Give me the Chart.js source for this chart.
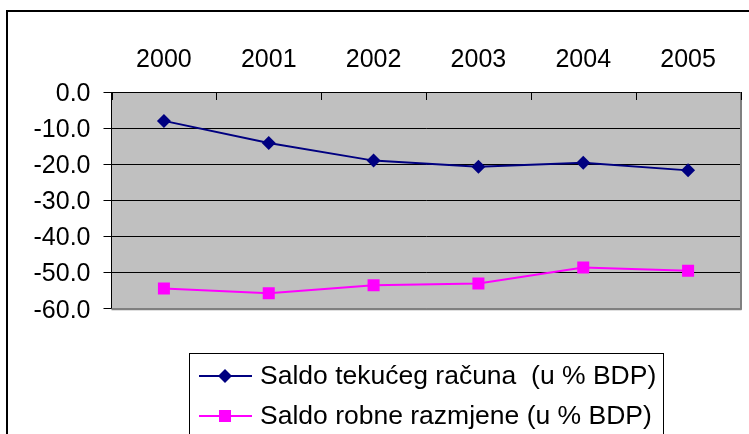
<!DOCTYPE html>
<html>
<head>
<meta charset="utf-8">
<script src="https://cdn.jsdelivr.net/npm/chart.js@4/dist/chart.umd.min.js"></script>
<style>
html,body{margin:0;padding:0;background:#fff;}
#wrap{width:749px;height:434px;position:relative;}
</style>
</head>
<body>
<div id="wrap"><canvas id="c" width="749" height="434"></canvas></div>
<script>
const categories = ['2000', '2001', '2002', '2003', '2004', '2005'];
const saldoTekucegRacuna = [-8.0, -14.1, -19.0, -20.7, -19.6, -21.7];
const saldoRobneRazmjene = [-54.4, -55.7, -53.5, -53.0, -48.6, -49.5];
const seriesLabels = ['Saldo tekućeg računa  (u % BDP)', 'Saldo robne razmjene (u % BDP)'];
const yTicks = { min: -60, max: 0, step: 10 };

const FONT = 'Liberation Sans, Arial, sans-serif';

const framePlugin = {
  id: 'frame',
  beforeDraw(chart) {
    const ctx = chart.ctx, a = chart.chartArea;
    ctx.save();
    ctx.fillStyle = '#fff';
    ctx.fillRect(0, 0, chart.width, chart.height);
    ctx.strokeStyle = '#000';
    ctx.lineWidth = 2;
    ctx.strokeRect(7, 11, 900, 600);
    ctx.fillStyle = '#C0C0C0';
    ctx.fillRect(a.left, a.top, a.right - a.left, a.bottom - a.top);
    ctx.restore();
  },
  afterDraw(chart) {
    const ctx = chart.ctx, a = chart.chartArea;
    const xs = chart.scales.x;
    ctx.save();
    ctx.strokeStyle = '#808080';
    ctx.lineWidth = 2;
    ctx.beginPath();
    ctx.moveTo(a.right + 0.5, a.top);
    ctx.lineTo(a.right + 0.5, a.bottom + 1);
    ctx.moveTo(a.left, a.bottom + 0.5);
    ctx.lineTo(a.right + 1, a.bottom + 0.5);
    ctx.stroke();
    ctx.strokeStyle = '#000';
    ctx.lineWidth = 1;
    ctx.beginPath();
    for (let i = 0; i <= categories.length; i++) {
      const x = Math.round(xs.getPixelForValue(i - 0.5)) + 0.5;
      ctx.moveTo(x, a.top);
      ctx.lineTo(x, a.top + 8);
    }
    ctx.stroke();
    ctx.beginPath();
    ctx.moveTo(a.left, a.top + 0.5);
    ctx.lineTo(a.right, a.top + 0.5);
    ctx.stroke();

    // legend
    const lx = 189.5, ly = 353.5;
    ctx.strokeStyle = '#000';
    ctx.lineWidth = 1;
    ctx.strokeRect(lx, ly, 474, 200);
    const rows = [376, 416];
    chart.data.datasets.forEach((ds, i) => {
      const y = rows[i];
      ctx.strokeStyle = ds.borderColor;
      ctx.lineWidth = 2;
      ctx.beginPath();
      ctx.moveTo(199, y);
      ctx.lineTo(252, y);
      ctx.stroke();
      ctx.fillStyle = ds.backgroundColor;
      ctx.beginPath();
      if (ds.pointStyle === 'rectRot') {
        const r = 7;
        ctx.moveTo(225, y - r); ctx.lineTo(225 + r, y); ctx.lineTo(225, y + r); ctx.lineTo(225 - r, y);
        ctx.closePath();
      } else {
        ctx.rect(219, y - 6, 12, 12);
      }
      ctx.fill();
      ctx.fillStyle = '#000';
      ctx.font = '26.5px ' + FONT;
      ctx.textBaseline = 'middle';
      ctx.textAlign = 'left';
      ctx.fillText(ds.label, 260, y + 1);
    });
    ctx.restore();
  }
};

new Chart(document.getElementById('c'), {
  type: 'line',
  data: {
    labels: categories,
    datasets: [
      {
        label: seriesLabels[0],
        data: saldoTekucegRacuna,
        borderColor: '#000080',
        backgroundColor: '#000080',
        borderWidth: 2,
        pointStyle: 'rectRot',
        pointRadius: 7,
        pointBorderWidth: 0,
        tension: 0
      },
      {
        label: seriesLabels[1],
        data: saldoRobneRazmjene,
        borderColor: '#FF00FF',
        backgroundColor: '#FF00FF',
        borderWidth: 2,
        pointStyle: 'rect',
        pointRadius: 8.5,
        pointBorderWidth: 0,
        tension: 0
      }
    ]
  },
  options: {
    responsive: false,
    animation: false,
    devicePixelRatio: 1,
    layout: { padding: { left: 0, right: 4.5, top: 0, bottom: 125.3 } },
    plugins: { legend: { display: false }, tooltip: { enabled: false } },
    scales: {
      x: {
        position: 'top',
        offset: true,
        grid: { display: false, drawTicks: false },
        border: { display: true, color: '#000', width: 1 },
        ticks: { color: '#000', font: { size: 25, family: FONT }, padding: 17, maxRotation: 0, autoSkip: false },
        afterFit(s) { s.height = 92; }
      },
      y: {
        min: yTicks.min,
        max: yTicks.max,
        ticks: {
          stepSize: yTicks.step,
          color: '#000',
          font: { size: 25, family: FONT },
          padding: 13,
          labelOffset: 2,
          callback: v => v.toFixed(1)
        },
        grid: {
          color: c => (c.tick && c.tick.value === yTicks.min) ? '#808080' : '#000',
          tickColor: '#000',
          tickLength: 8,
          lineWidth: 1
        },
        border: { display: true, color: '#000', width: 1 },
        afterFit(s) { s.width = 111.5; }
      }
    }
  },
  plugins: [framePlugin]
});
</script>
</body>
</html>
